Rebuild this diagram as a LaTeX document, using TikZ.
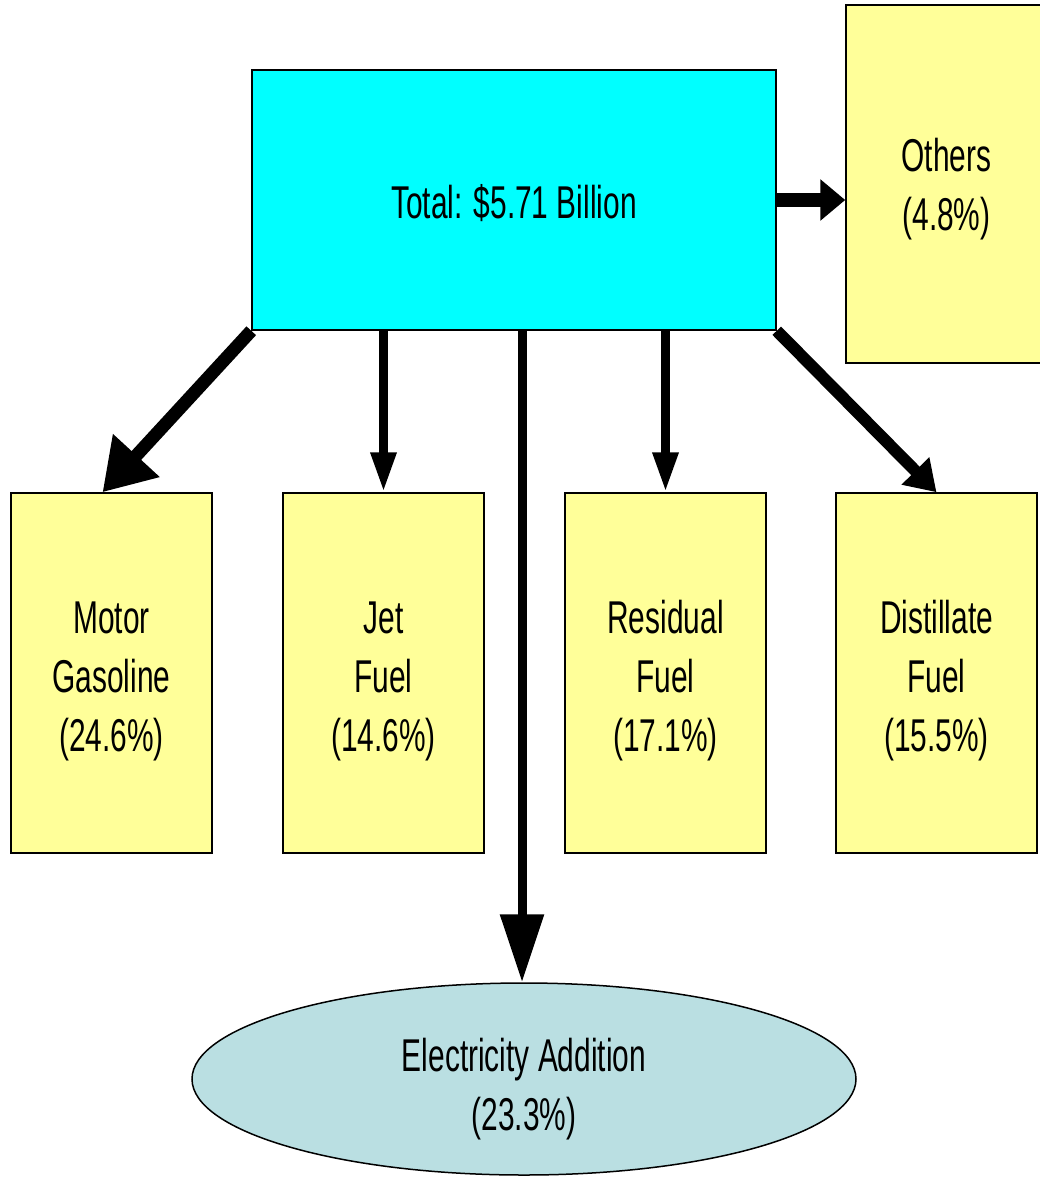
\documentclass[tikz,border=0pt]{standalone}
\usepackage{fontspec}
\setmainfont{Liberation Sans}[FakeStretch=0.65]
\usetikzlibrary{arrows.meta,shapes.geometric,calc}
\definecolor{boxyellow}{HTML}{FFFF99}
\definecolor{topcyan}{HTML}{00FFFF}
\definecolor{ellblue}{HTML}{BADFE2}
\begin{document}
\begin{tikzpicture}[x=1pt,y=-1pt,
  every node/.style={font=\fontsize{46}{59}\selectfont, align=center, inner sep=0pt},
  fuelbox/.style={draw=black, line width=1.5pt, fill=boxyellow, minimum width=201pt, minimum height=360pt},
  conn/.style={line width=#1, draw=black},
]
\useasboundingbox (0,0) rectangle (1040,1178);
\node[draw=black, line width=1.5pt, fill=topcyan, minimum width=524pt, minimum height=260pt] (total) at (514,200) {};
\node at (514,203) {Total: \$5.71 Billion};
\node[fuelbox, minimum height=358pt] (others) at (946.5,184) {};
\node at (946.5,189) {Others\\(4.8\%)};
\node[fuelbox] (motor) at (111.5,673) {};
\node at (111.5,681) {Motor\\Gasoline\\(24.6\%)};
\node[fuelbox] (jet) at (383.5,673) {};
\node at (383.5,681) {Jet\\Fuel\\(14.6\%)};
\node[fuelbox] (resid) at (665.5,673) {};
\node at (665.5,681) {Residual\\Fuel\\(17.1\%)};
\node[fuelbox] (dist) at (936.5,673) {};
\node at (936.5,681) {Distillate\\Fuel\\(15.5\%)};
\node[ellipse, draw=black, line width=1.5pt, fill=ellblue, minimum width=664pt, minimum height=192pt] (elec) at (524,1079) {};
\node at (524,1089) {Electricity Addition\\(23.3\%)};
% connectors
\draw[line width=13pt, -{Triangle[length=50pt,width=60pt]}] (total.south west) -- ([xshift=-9pt]motor.north);
\draw[line width=9pt, -{Triangle[length=40pt,width=24pt]}] (total.south -| jet.north) -- (jet.north);
\draw[line width=9pt, -{Triangle[length=40pt,width=24pt]}] (total.south -| resid.north) -- (resid.north);
\draw[line width=12pt, -{Triangle[length=30pt,width=37pt]}] (total.south east) -- (dist.north);
\draw[line width=9pt, -{Triangle[length=68pt,width=42pt]}] ([xshift=-2pt]total.south -| elec.north) -- ([xshift=-2pt]elec.north);
\draw[line width=14pt, -{Triangle[length=25pt,width=40pt]}] (total.east) -- (total.east -| others.west);
\end{tikzpicture}
\end{document}
